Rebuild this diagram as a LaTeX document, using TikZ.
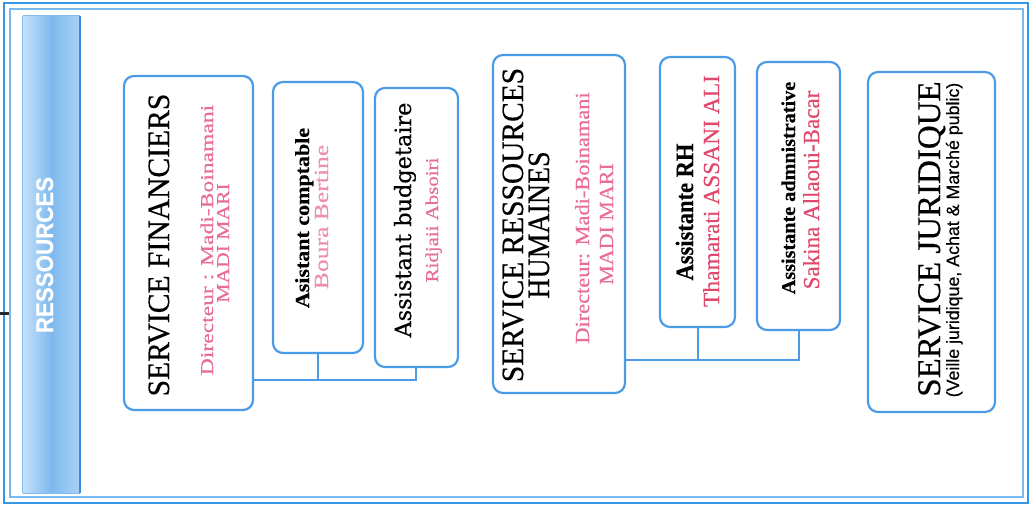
\documentclass[tikz,border=0pt]{standalone}
\usepackage{fontspec}
\setmainfont{Liberation Serif}
\newfontfamily\dvsf{DejaVu Serif}
\newfontfamily\lsans{Liberation Sans}
\usetikzlibrary{fit}
\definecolor{frameblue}{RGB}{55,150,230}
\definecolor{frameblue2}{RGB}{120,185,240}
\definecolor{boxblue}{RGB}{75,155,230}
\definecolor{bandL}{RGB}{195,225,250}
\definecolor{bandM}{RGB}{125,185,238}
\definecolor{bandR}{RGB}{170,210,246}
\definecolor{bandedge}{RGB}{55,140,225}
\definecolor{pinkA}{RGB}{232,110,150}
\definecolor{pinkB}{RGB}{236,145,172}
\definecolor{redA}{RGB}{224,72,108}
\definecolor{darkline}{RGB}{40,40,40}
\newcommand\mytxt[3]{{\fontsize{#1}{#1}\selectfont\addfontfeature{FakeStretch=#2,FakeBold=0.4}#3}}
\begin{document}
\begin{tikzpicture}[x=0.5pt,y=-0.5pt,
  box/.style={draw=boxblue, line width=1.1pt, rounded corners=5pt, inner sep=0pt, fill=white},
  conn/.style={draw=boxblue, line width=1.1pt},
  tnode/.style={rotate=90, anchor=base, inner sep=0pt}]
\useasboundingbox (0,0) rectangle (1031,513);
% frame
\node[draw=frameblue, line width=1.4pt, inner sep=0pt, fit={(4,3) (1028,503)}] (frameO) {};
\node[draw=frameblue2, line width=0.7pt, inner sep=0pt, fit={(10,9) (1023,497)}] (frameI) {};
\coordinate (ext) at (0,313);
\draw[darkline, line width=1.5pt] (ext) -- (frameI.west |- ext);
% band
\node[inner sep=0pt, left color=bandL, right color=bandR, middle color=bandM, fit={(23,16) (80,493)}] (band) {};
\draw[bandedge, line width=1pt] (band.north east) -- (band.south east);
\draw[bandedge!60, line width=0.6pt] (band.north west) -- (band.south west) (band.north west) -- (band.north east) (band.south west) -- (band.south east);
\node[tnode, text=white] (bandT) at (53,255) {\lsans\bfseries\mytxt{12}{0.93}{RESSOURCES}};
% boxes
\node[box, fit={(124,76) (253,410)}] (fin) {};
\node[box, fit={(273,82) (363,353)}] (compt) {};
\node[box, fit={(375,88) (458,367)}] (budg) {};
\node[box, fit={(493,55) (625,393)}] (rh) {};
\node[box, fit={(660,57) (735,327)}] (arh) {};
\node[box, fit={(757,62) (840,330)}] (adm) {};
\node[box, fit={(868,72) (995,412)}] (jur) {};
% connectors
\coordinate (j1) at (318,380);
\coordinate (j2) at (416,380);
\draw[conn] (fin.east |- j1) -- (j2) -- (budg.south -| j2);
\draw[conn] (compt.south -| j1) -- (j1);
\coordinate (k1) at (698,360);
\coordinate (k2) at (799,360);
\draw[conn] (rh.east |- k1) -- (k2) -- (adm.south -| k2);
\draw[conn] (arh.south -| k1) -- (k1);
% texts
\node[tnode] (finT) at (169,245) {\mytxt{15.5}{0.955}{SERVICE FINANCIERS}};
\node[tnode, text=pinkA] (finD) at (213,240) {\mytxt{9}{1.31}{Directeur : Madi-Boinamani}};
\node[tnode, text=pinkA] (finN) at (229,243) {\mytxt{9}{1.2}{MADI MARI}};
\node[tnode] (comptT) at (309,218) {\bfseries\mytxt{10}{1.1}{Asistant comptable}};
\node[tnode, text=pinkB] (comptN) at (328,217) {\mytxt{10}{1.28}{Boura Bertine}};
\node[tnode] (budgT) at (411,220) {\dvsf\mytxt{11.2}{1}{Assistant budgetaire}};
\node[tnode, text=pinkA] (budgN) at (438,220) {\mytxt{9}{1.16}{Ridjaii Absoiri}};
\node[tnode] (rhT1) at (523,225) {\mytxt{15.5}{0.95}{SERVICE RESSOURCES}};
\node[tnode] (rhT2) at (549,225) {\mytxt{15.5}{0.9}{HUMAINES}};
\node[tnode, text=pinkA] (rhD) at (589,218) {\mytxt{10}{1.12}{Directeur: Madi-Boinamani}};
\node[tnode, text=pinkA] (rhN) at (613,224) {\mytxt{10}{1.1}{MADI MARI}};
\node[tnode] (arhT) at (693,212) {\bfseries\mytxt{12.5}{0.9}{Assistante RH}};
\node[tnode, text=redA] (arhN) at (719,191) {\mytxt{11.5}{1.02}{Thamarati ASSANI ALI}};
\node[tnode] (admT) at (795,188) {\bfseries\mytxt{9.8}{1.03}{Assistante admnistrative}};
\node[tnode, text=redA] (admN) at (819,190) {\mytxt{11.5}{1}{Sakina Allaoui-Bacar}};
\node[tnode] (jurT) at (940,239) {\mytxt{16.5}{1}{SERVICE JURIDIQUE}};
\node[tnode] (jurS) at (959,240) {\lsans\mytxt{8.9}{1}{(Veille juridique, Achat \& Marché public)}};
\end{tikzpicture}
\end{document}
